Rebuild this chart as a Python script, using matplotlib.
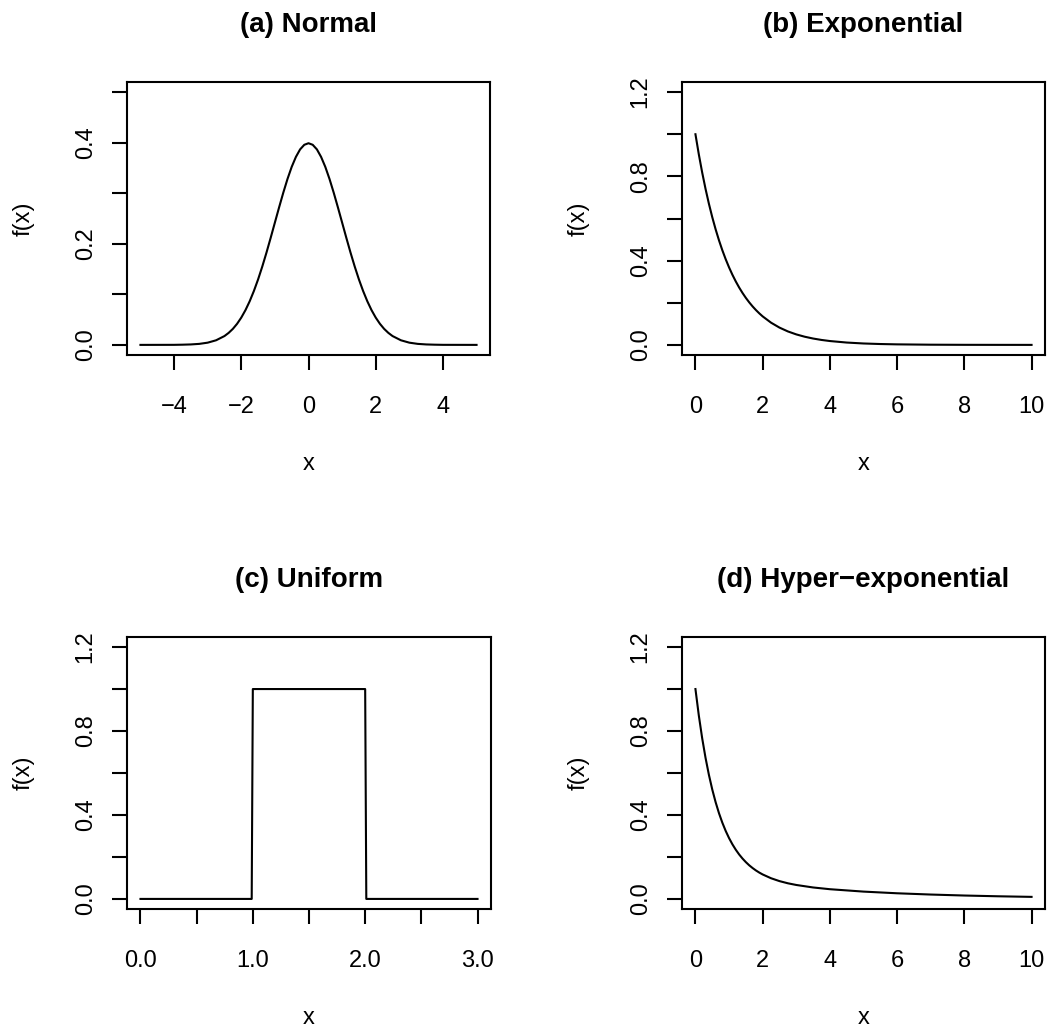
import matplotlib
matplotlib.use('Agg')
import matplotlib.pyplot as plt

plt.rcParams['font.family'] = ['Liberation Sans', 'DejaVu Sans']

# (a) standard normal density
norm_x = [-5, -4, -3.75, -3.5, -3.25, -3, -2.75, -2.5, -2.375, -2.25, -2.125,
          -2, -1.875, -1.75, -1.625, -1.5, -1.375, -1.25, -1.125, -1, -0.875,
          -0.75, -0.625, -0.5, -0.375, -0.25, -0.125, 0, 0.125, 0.25, 0.375,
          0.5, 0.625, 0.75, 0.875, 1, 1.125, 1.25, 1.375, 1.5, 1.625, 1.75,
          1.875, 2, 2.125, 2.25, 2.375, 2.5, 2.75, 3, 3.25, 3.5, 3.75, 4, 5]
norm_y = [0.0, 0.0001, 0.0004, 0.0009, 0.0020, 0.0044, 0.0091, 0.0175, 0.0238,
          0.0317, 0.0417, 0.0540, 0.0688, 0.0863, 0.1066, 0.1295, 0.1550,
          0.1826, 0.2119, 0.2420, 0.2720, 0.3011, 0.3282, 0.3521, 0.3718,
          0.3867, 0.3958, 0.3989, 0.3958, 0.3867, 0.3718, 0.3521, 0.3282,
          0.3011, 0.2720, 0.2420, 0.2119, 0.1826, 0.1550, 0.1295, 0.1066,
          0.0863, 0.0688, 0.0540, 0.0417, 0.0317, 0.0238, 0.0175, 0.0091,
          0.0044, 0.0020, 0.0009, 0.0004, 0.0001, 0.0]

# (b) exponential density
exp_x = [0, 0.1, 0.2, 0.3, 0.4, 0.5, 0.6, 0.7, 0.8, 0.9, 1.0, 1.1, 1.2, 1.3,
         1.4, 1.5, 1.6, 1.7, 1.8, 1.9, 2.0, 2.25, 2.5, 2.75, 3, 3.25, 3.5,
         3.75, 4, 4.5, 5, 5.5, 6, 7, 8, 9, 10]
exp_y = [1.0, 0.9048, 0.8187, 0.7408, 0.6703, 0.6065, 0.5488, 0.4966, 0.4493,
         0.4066, 0.3679, 0.3329, 0.3012, 0.2725, 0.2466, 0.2231, 0.2019,
         0.1827, 0.1653, 0.1496, 0.1353, 0.1054, 0.0821, 0.0639, 0.0498,
         0.0388, 0.0302, 0.0235, 0.0183, 0.0111, 0.0067, 0.0041, 0.0025,
         0.0009, 0.0003, 0.0001, 0.0]

# (c) uniform density on [1, 2]
unif_x = [0, 0.99, 1.0, 2.0, 2.01, 3]
unif_y = [0, 0, 1, 1, 0, 0]

# (d) hyper-exponential density
hyp_x = [0, 0.1, 0.2, 0.3, 0.4, 0.5, 0.6, 0.7, 0.8, 0.9, 1.0, 1.1, 1.2, 1.3,
         1.4, 1.5, 1.6, 1.7, 1.8, 1.9, 2.0, 2.25, 2.5, 2.75, 3, 3.5, 4, 5, 6,
         7, 8, 9, 10]
hyp_y = [1.0, 0.8744, 0.7660, 0.6724, 0.5915, 0.5216, 0.4611, 0.4086, 0.3633,
         0.3239, 0.2898, 0.2602, 0.2344, 0.2119, 0.1924, 0.1753, 0.1602,
         0.1472, 0.1356, 0.1255, 0.1166, 0.0985, 0.0849, 0.0745, 0.0665,
         0.0546, 0.0463, 0.0349, 0.0269, 0.0209, 0.0162, 0.0126, 0.0098]

titles = ['(a) Normal', '(b) Exponential', '(c) Uniform',
          '(d) Hyper\u2212exponential']

lw = 1.5
W, H = 1051, 1029
fig = plt.figure(figsize=(W / 100, H / 100), dpi=100)

# box positions in pixels: left, top, right, bottom
boxes = [(127, 82, 490, 355), (682, 82, 1045, 355),
         (127, 637, 491, 909), (682, 637, 1045, 909)]


def r_lim(lo, hi):
    # 4% padding on both ends, like R's default axis range
    pad = 0.04 * (hi - lo)
    return lo - pad, hi + pad


panels = [
    dict(x=norm_x, y=norm_y, xlim=(-5, 5), ylim=(0, 0.5),
         xt=[-4, -2, 0, 2, 4], xl=['\u22124', '\u22122', '0', '2', '4'],
         yt=[0, 0.1, 0.2, 0.3, 0.4, 0.5],
         yl=['0.0', '', '0.2', '', '0.4', '']),
    dict(x=exp_x, y=exp_y, xlim=(0, 10), ylim=(0, 1.2),
         xt=[0, 2, 4, 6, 8, 10], xl=['0', '2', '4', '6', '8', '10'],
         yt=[0, 0.2, 0.4, 0.6, 0.8, 1.0, 1.2],
         yl=['0.0', '', '0.4', '', '0.8', '', '1.2']),
    dict(x=unif_x, y=unif_y, xlim=(0, 3), ylim=(0, 1.2),
         xt=[0, 0.5, 1, 1.5, 2, 2.5, 3],
         xl=['0.0', '', '1.0', '', '2.0', '', '3.0'],
         yt=[0, 0.2, 0.4, 0.6, 0.8, 1.0, 1.2],
         yl=['0.0', '', '0.4', '', '0.8', '', '1.2']),
    dict(x=hyp_x, y=hyp_y, xlim=(0, 10), ylim=(0, 1.2),
         xt=[0, 2, 4, 6, 8, 10], xl=['0', '2', '4', '6', '8', '10'],
         yt=[0, 0.2, 0.4, 0.6, 0.8, 1.0, 1.2],
         yl=['0.0', '', '0.4', '', '0.8', '', '1.2']),
]

for p, (l, t, r, b), title in zip(panels, boxes, titles):
    ax = fig.add_axes([l / W, 1 - b / H, (r - l) / W, (b - t) / H])
    ax.plot(p['x'], p['y'], color='black', lw=lw)
    ax.set_xlim(*r_lim(*p['xlim']))
    ax.set_ylim(*r_lim(*p['ylim']))
    ax.set_xticks(p['xt'])
    ax.set_xticklabels(p['xl'])
    ax.set_yticks(p['yt'])
    ax.set_yticklabels(p['yl'])
    for s in ax.spines.values():
        s.set_linewidth(lw)
    ax.tick_params(axis='x', length=10.8, width=lw, pad=19, labelsize=17)
    ax.tick_params(axis='y', length=10.8, width=lw, pad=11, labelsize=17,
                   labelrotation=90)
    for lbl in ax.get_yticklabels():
        lbl.set_va('center')
    ax.set_xlabel('x', fontsize=17)
    ax.xaxis.set_label_coords(0.5, -98.3 / (b - t))
    ax.set_ylabel('f(x)', fontsize=17)
    ax.yaxis.set_label_coords(-92 / (r - l), 0.5)
    ax.set_title(title, fontsize=20, fontweight='bold', y=1 + 50.3 / (b - t),
                 pad=0)

fig.savefig('out.png', dpi=100)
